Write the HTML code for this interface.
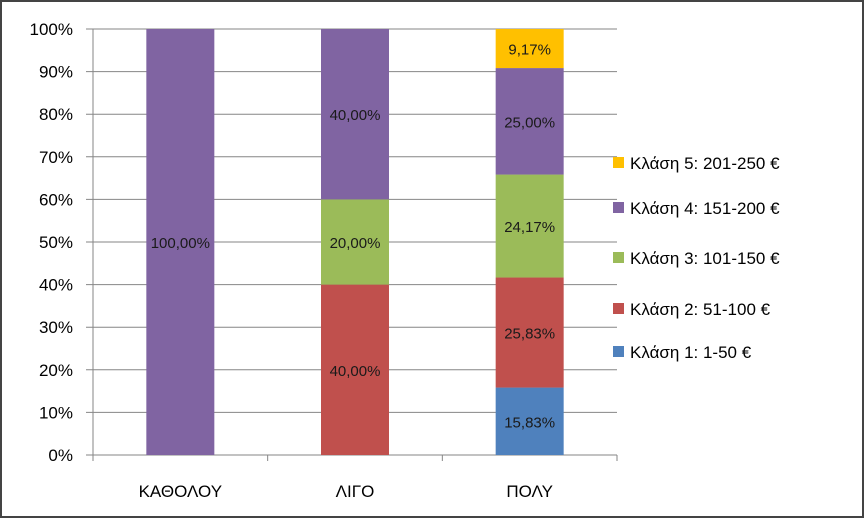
<!DOCTYPE html>
<html><head><meta charset="utf-8"><style>
body{margin:0;background:#fff;}
svg{display:block;font-family:"Liberation Sans","DejaVu Sans",sans-serif;}
</style></head><body>
<svg width="865" height="519" viewBox="0 0 865 519">
<rect x="1" y="1" width="862" height="516" fill="#fff" stroke="#444" stroke-width="2"/>
<g id="grid"></g><g id="bars"></g><g id="axes"></g><g id="legend"></g>
</svg>
<script>
const categories=["ΚΑΘΟΛΟΥ","ΛΙΓΟ","ΠΟΛΥ"];
const seriesNames=["Κλάση 1: 1-50 €","Κλάση 2: 51-100 €","Κλάση 3: 101-150 €","Κλάση 4: 151-200 €","Κλάση 5: 201-250 €"];
const s1=[0,0,15.83];
const s2=[0,40,25.83];
const s3=[0,20,24.17];
const s4=[100,40,25];
const s5=[0,0,9.17];
const yTicks=[0,10,20,30,40,50,60,70,80,90,100];
const colors=["#4f81bd","#c0504d","#9bbb59","#8064a2","#ffc000"];
const series=[s1,s2,s3,s4,s5];
const NS="http://www.w3.org/2000/svg";
const x0=93,x1=617,yTop=29,yBot=455;
const y=v=>yBot-(v/100)*(yBot-yTop);
const band=(x1-x0)/categories.length;
const xc=i=>x0+band*(i+0.5);
const bw=68;
function mk(t,a,p,txt){const e=document.createElementNS(NS,t);for(const k in a)e.setAttribute(k,a[k]);if(txt!==undefined)e.textContent=txt;p.appendChild(e);return e;}
const G=document.getElementById('grid'),B=document.getElementById('bars'),A=document.getElementById('axes'),L=document.getElementById('legend');
yTicks.forEach(t=>{
 const l=mk('line',{x1:86,x2:x1,y1:y(t),y2:y(t),stroke:'#868686','stroke-width':1},G);
 
 
 const tx=mk('text',{x:73,y:y(t)+6,'text-anchor':'end','font-size':17,fill:'#000'},A,t+'%');
 
 
});
const ax=mk('line',{x1:x0,x2:x0,y1:yTop,y2:yBot,stroke:'#868686'},A);


for(let i=0;i<=categories.length;i++){const tk=mk('line',{x1:x0+band*i,x2:x0+band*i,y1:yBot,y2:yBot+6,stroke:'#868686'},A);
 
 }
categories.forEach((c,i)=>{
 const t=mk('text',{x:xc(i),y:497,'text-anchor':'middle','font-size':17,fill:'#000'},A,c);
 
 
 let cum=0;
 series.forEach((s,k)=>{
  const v=s[i]; if(!v){return;}
  const r=mk('rect',{x:xc(i)-bw/2,y:y(cum+v),width:bw,height:y(cum)-y(cum+v),fill:colors[k]},B);
  
  
  const lb=mk('text',{x:xc(i),y:(y(cum)+y(cum+v))/2+6,'text-anchor':'middle','font-size':15,fill:'#1a1a1a'},B,v.toFixed(2).replace('.',',')+'%');
  
  
  cum+=v;
 });
});
const ly=[352,309,258,208,163];
seriesNames.forEach((n,k)=>{
 const g=mk('g',{},L);
 
 
 mk('rect',{x:613,y:ly[k]-6,width:11,height:11,fill:colors[k]},g);
 mk('text',{x:630,y:ly[k]+6,'font-size':17,fill:'#000'},g,n);
});
</script>
</body></html>
